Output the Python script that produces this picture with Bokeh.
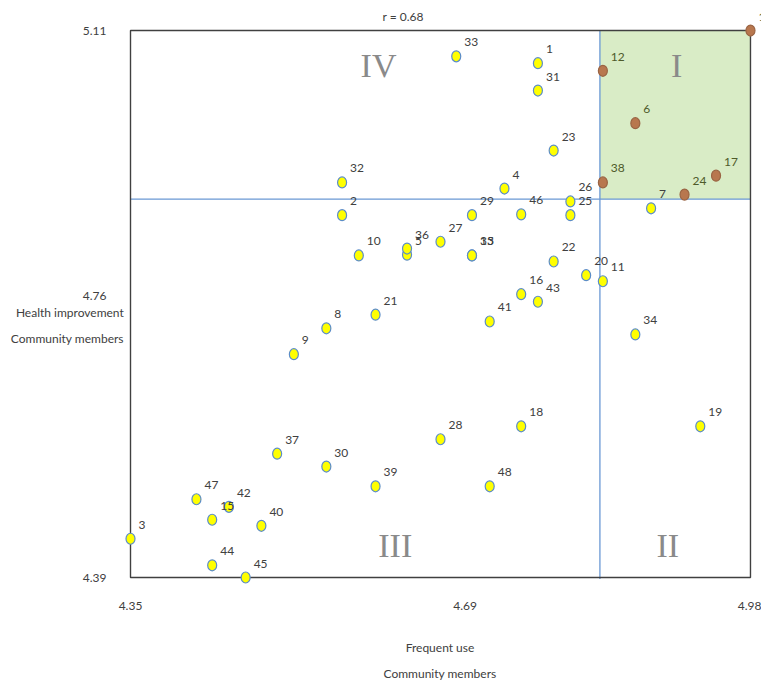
from bokeh.plotting import figure
from bokeh.models import FixedTicker, Label, ColumnDataSource, Range1d
from bokeh.core.properties import value
from bokeh.embed import file_html
from bokeh.resources import INLINE

# ---- data ----
point_ids = [str(i) for i in range(1, 49)]
freq_use = [4.764, 4.565, 4.350, 4.730, 4.631, 4.863, 4.879, 4.549, 4.516, 4.582,
            4.830, 4.830, 4.697, 4.980, 4.433, 4.747, 4.945, 4.747, 4.929, 4.813,
            4.599, 4.780, 4.780, 4.913, 4.797, 4.797, 4.665, 4.665, 4.697, 4.549,
            4.764, 4.565, 4.681, 4.863, 4.697, 4.631, 4.499, 4.830, 4.599, 4.483,
            4.715, 4.450, 4.764, 4.433, 4.467, 4.747, 4.417, 4.715]
health_impr = [5.067, 4.867, 4.441, 4.902, 4.815, 4.988, 4.876, 4.718, 4.684, 4.814,
               4.780, 5.057, 4.814, 5.110, 4.466, 4.763, 4.919, 4.589, 4.589, 4.788,
               4.736, 4.806, 4.952, 4.894, 4.867, 4.885, 4.832, 4.572, 4.867, 4.536,
               5.031, 4.910, 5.076, 4.710, 4.814, 4.823, 4.553, 4.910, 4.510, 4.458,
               4.727, 4.483, 4.753, 4.406, 4.390, 4.868, 4.493, 4.510]

x_ticks = [4.35, 4.69, 4.98]
y_ticks = [4.39, 4.76, 5.11]
x_cut = 4.827
y_cut = 4.888
r_text = "r = 0.68"
quad_names = ["I", "II", "III", "IV"]
quad_x = [4.905, 4.896, 4.619, 4.602]
quad_y = [5.064, 4.432, 4.432, 5.064]

# ---- derived ----
x_lo, x_hi = min(x_ticks), max(x_ticks)
y_lo, y_hi = min(y_ticks), max(y_ticks)

in_q1 = [(xv >= x_cut and yv >= y_cut) for xv, yv in zip(freq_use, health_impr)]
fills = ["#b8774e" if q else "#ffff00" for q in in_q1]
lines = ["#9a6443" if q else "#5b8cc8" for q in in_q1]
lab_cols = ["#4e5a2a" if q else "#404040" for q in in_q1]

src = ColumnDataSource(dict(x=freq_use, y=health_impr, id=point_ids,
                            fill=fills, line=lines, lc=lab_cols))

p = figure(frame_width=643, frame_height=582,
           x_range=Range1d(x_lo - 0.0122, x_hi + 0.0112),
           y_range=Range1d(y_lo - 0.0171, y_hi + 0.029),
           output_backend="svg", toolbar_location=None,
           min_border_left=118, min_border_right=0,
           min_border_top=8, min_border_bottom=90)
p.outline_line_color = None
p.grid.visible = False
p.background_fill_color = "white"

# green quadrant I
p.quad(left=[x_cut], right=[x_hi], bottom=[y_cut], top=[y_hi],
       fill_color="#d9ecc6", line_color=None)
# cut lines
p.segment(x0=[x_cut, x_lo], y0=[y_lo - 0.002, y_cut], x1=[x_cut, x_hi], y1=[y_hi, y_cut],
          line_color="#6a98d4", line_width=1.3)
# box
p.quad(left=[x_lo], right=[x_hi], bottom=[y_lo], top=[y_hi],
       fill_color=None, line_color="#404040", line_width=1.4)

# quadrant numerals
p.text(x=quad_x, y=quad_y, text=quad_names, text_font=value("Liberation Serif"),
       text_font_size="34px", text_color="#8a8a8a", text_align="center",
       text_baseline="middle")

# points
p.ellipse(x="x", y="y", width=9, height=11, width_units="screen", height_units="screen",
          fill_color="fill", line_color="line", line_width=1.2, source=src)
p.text(x="x", y="y", text="id", source=src, x_offset=8, y_offset=-14,
       text_font=value("Lato"), text_font_size="12px", text_color="lc",
       text_align="left", text_baseline="middle")

# axes
p.xaxis.ticker = FixedTicker(ticks=x_ticks)
p.yaxis.ticker = FixedTicker(ticks=y_ticks)
for ax in (p.xaxis, p.yaxis):
    ax.axis_line_color = None
    ax.major_tick_line_color = None
    ax.minor_tick_line_color = None
    ax.major_tick_out = 0
    ax.major_tick_in = 0
    ax.major_label_text_font = "Lato"
    ax.major_label_text_font_size = "12px"
    ax.major_label_text_color = "#404040"
    ax.axis_label_text_font = "Lato"
    ax.axis_label_text_font_style = "normal"
    ax.axis_label_text_font_size = "12px"
    ax.axis_label_text_color = "#404040"
    ax.axis_label_text_line_height = 1.74
p.xaxis.major_label_standoff = 11
p.yaxis.major_label_standoff = 12
p.xaxis.axis_label = "Frequent use\nCommunity members"
p.xaxis.axis_label_standoff = 27

p.yaxis.axis_label = "\n\nHealth improvement\nCommunity members"
p.yaxis.axis_label_orientation = "horizontal"
p.yaxis.axis_label_standoff = -44

p.add_layout(Label(x=4.627, y=y_hi + 0.018, text=r_text, text_font="Lato",
                   text_font_size="12px", text_color="#404040",
                   text_align="center", text_baseline="middle"))

open("out.html", "w").write(file_html(p, INLINE))
